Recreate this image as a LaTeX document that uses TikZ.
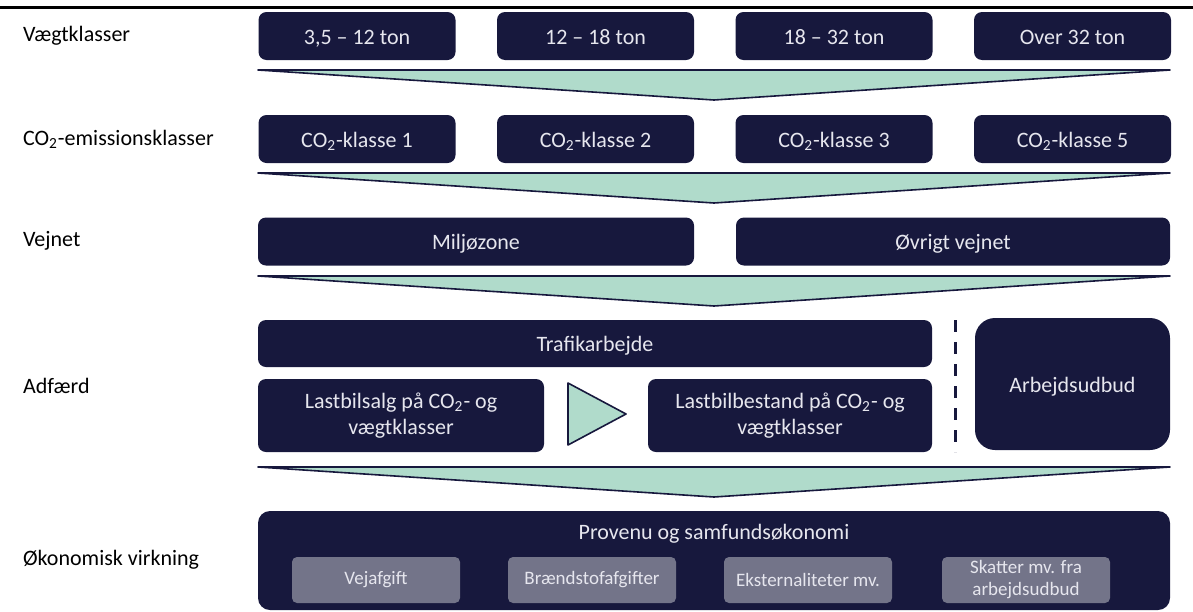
\documentclass[tikz,border=0pt]{standalone}
\usepackage{fontspec}
\setmainfont{Carlito}
\definecolor{navy}{HTML}{17183D}
\definecolor{mint}{HTML}{B0DBCB}
\definecolor{slate}{HTML}{737489}
\definecolor{boxtxt}{HTML}{E6E6EE}
\newcommand{\COtwo}{CO\textsubscript{2}}
\begin{document}
\begin{tikzpicture}[x=0.5pt, y=-0.5pt,
    rowlabel/.style={anchor=west, black, font=\fontsize{11}{13}\selectfont},
    box/.style={rectangle, rounded corners=4pt, fill=navy, text=boxtxt, inner sep=0pt, align=center, minimum height=24pt, font=\fontsize{11}{13}\selectfont},
    oneline/.style={text height=1.9ex, text depth=0.2ex},
    subbox/.style={rectangle, rounded corners=2.5pt, fill=slate, text=boxtxt, inner sep=0pt, align=center, minimum width=84pt, minimum height=23pt, font=\fontsize{9.5}{11}\selectfont},
    funnel/.style={fill=mint, draw=navy, line width=0.8pt, line join=round}]
  \useasboundingbox (0,0) rectangle (1193,611);
  \draw[black, line width=1.5pt] (0,7) -- (1193,7);

  % row labels
  \node[rowlabel] (l1) at (16,36) {Vægtklasser};
  \node[rowlabel] (l2) at (16,139) {\COtwo-emissionsklasser};
  \node[rowlabel] (l3) at (16,241) {Vejnet};
  \node[rowlabel] (l4) at (16,386) {Adfærd};
  \node[rowlabel] (l5) at (16,560) {Økonomisk virkning};

  % weight classes
  \node[box, oneline, minimum width=98.5pt] (w1) at (357,36) {3,5 -- 12 ton};
  \node[box, oneline, minimum width=98.5pt] (w2) at (595.5,36) {12 -- 18 ton};
  \node[box, oneline, minimum width=98.5pt] (w3) at (834,36) {18 -- 32 ton};
  \node[box, oneline, minimum width=98.5pt] (w4) at (1072.5,36) {Over 32 ton};

  % CO2 classes
  \foreach \i/\x/\co in {1/357/1, 2/595.5/2, 3/834/3, 4/1072.5/5}
    \node[box, oneline, minimum width=98.5pt] (c\i) at (\x,139) {\COtwo-klasse \co};

  % road network
  \node[box, oneline, minimum width=218pt] (zone) at (476,241.5) {Miljøzone};
  \node[box, oneline, minimum width=217pt] (rest) at (953,241.5) {Øvrigt vejnet};

  % behaviour
  \node[box, oneline, minimum width=337pt, minimum height=23.5pt] (traffic) at (595,343.5) {Trafikarbejde};
  \node[box, minimum width=143pt, minimum height=36.5pt] (sales) at (401,415.5) {Lastbilsalg på \COtwo- og\\vægtklasser};
  \node[box, minimum width=142pt, minimum height=36.5pt] (stock) at (790,415.5) {Lastbilbestand på \COtwo- og\\vægtklasser};
  \node[box, oneline, rounded corners=10pt, minimum width=97.5pt, minimum height=66pt] (labour) at (1072.5,384) {Arbejdsudbud};
  \draw[navy, line width=1.5pt, dash pattern=on 6pt off 5pt] (955,320) -- (955,452);
  \draw[funnel] (568,383) -- (626,414) -- (568,445) -- cycle;

  % economic effect
  \node[box, rounded corners=6pt, minimum width=456pt, minimum height=49.5pt] (econ) at (714,560.5) {};
  \node[text=boxtxt, font=\fontsize{11}{13}\selectfont] (econtitle) at (714,534) {Provenu og samfundsøkonomi};
  \node[subbox] (s1) at (376,580) {Vejafgift};
  \node[subbox] (s2) at (592,580) {Brændstofafgifter};
  \node[subbox] (s3) at (808,580) {Eksternaliteter mv.};
  \node[subbox] (s4) at (1026,580) {Skatter mv. fra\\arbejdsudbud};

  % funnels between the rows
  \foreach \top in {70,173,276,467}
    \draw[funnel] (258,\top) -- (1170,\top) -- (714,\top+30) -- cycle;
\end{tikzpicture}
\end{document}
